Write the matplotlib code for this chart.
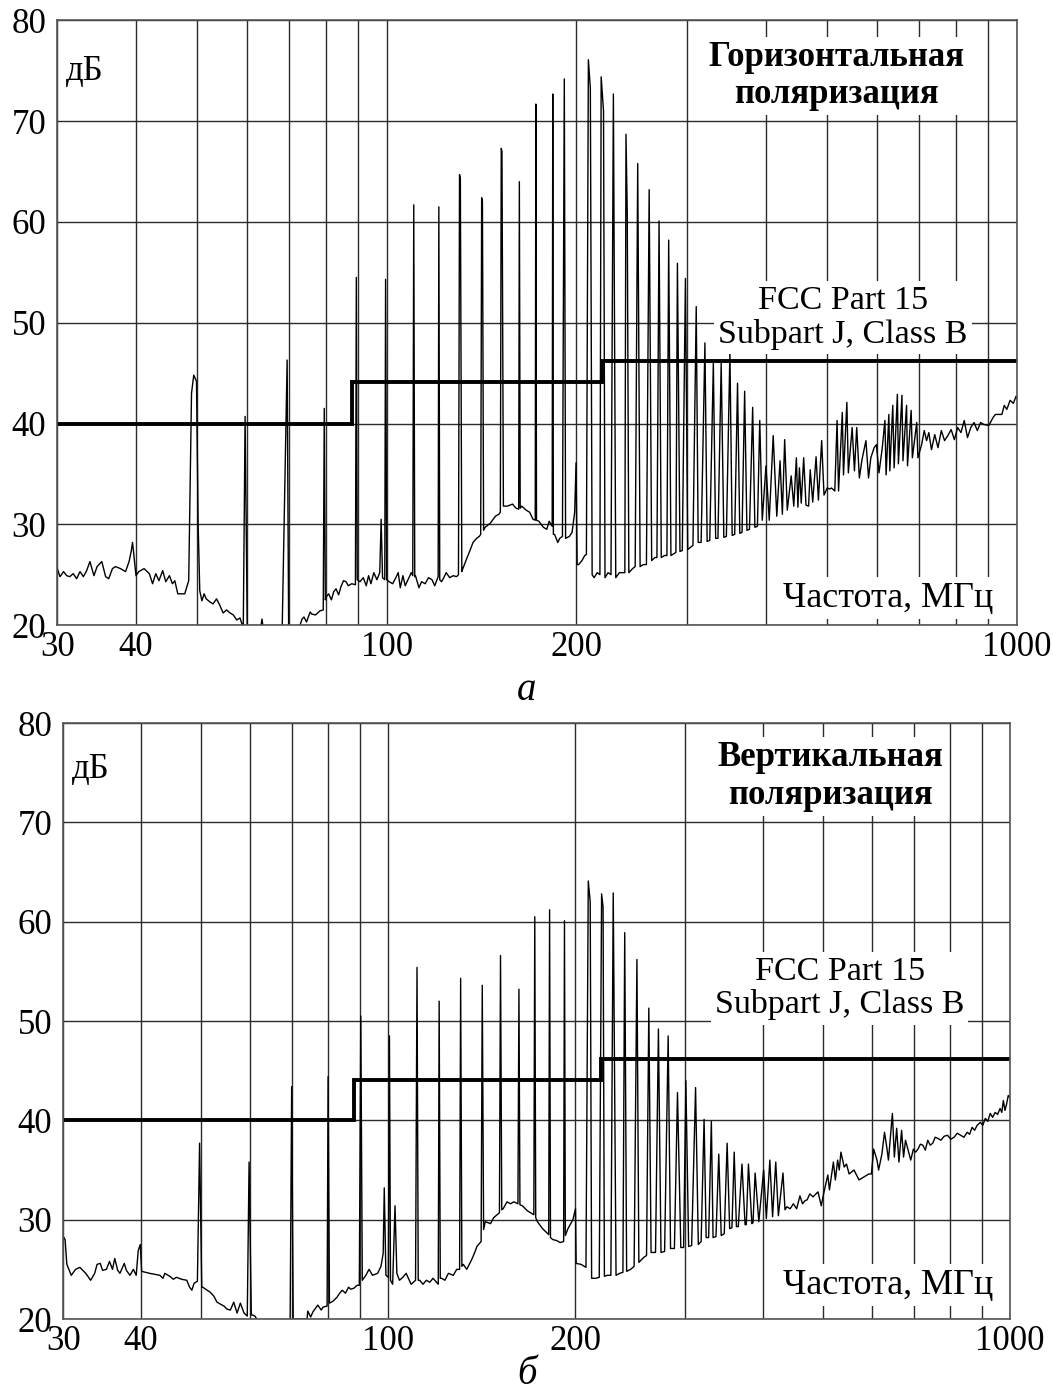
import numpy as np
import matplotlib
matplotlib.use("Agg")
import matplotlib.pyplot as plt

plt.rcParams['font.family'] = ['Liberation Serif', 'DejaVu Serif']

# FCC Part 15 Subpart J, Class B limit: band edges (MHz) and levels (dB)
limit_edges = [30, 88, 220, 1000]
limit_levels = [40.0, 44.1, 46.2]

# horizontal polarization, (MHz, dB)
hor_low = [(30.0, 25.6), (30.3, 24.8), (30.7, 25.3), (31.05, 24.9), (31.4, 24.8), (31.8, 25.1),
           (32.2, 24.6), (32.6, 25.3), (33.0, 24.8), (33.4, 25.4), (33.8, 26.3), (34.3, 24.9),
           (34.7, 25.8), (35.3, 26.3), (35.8, 24.8), (36.2, 24.6), (36.7, 25.6), (37.1, 25.8),
           (37.8, 25.6), (38.5, 25.3), (39.0, 26.3), (39.3, 27.3), (39.5, 28.2), (40.0, 24.9),
           (40.4, 25.3), (41.2, 25.6), (42.0, 25.1), (42.5, 24.1), (43.0, 25.1), (43.5, 24.4),
           (44.1, 25.4), (44.6, 24.3), (45.2, 24.9), (45.7, 24.1), (46.1, 24.4), (46.6, 23.1),
           (47.2, 23.1), (47.8, 23.1), (48.5, 24.4), (49.0, 43.0), (49.4, 44.8), (49.9, 44.2),
           (50.2, 30.0), (50.5, 23.4), (50.9, 22.4), (51.3, 23.1), (51.7, 22.6), (52.4, 22.3),
           (53.0, 22.1), (53.7, 22.6), (54.3, 22.0), (55.0, 21.2), (55.7, 21.5), (56.4, 21.2),
           (57.1, 21.0), (57.8, 20.5), (58.5, 20.7), (59.0, 20.0), (59.2, 19.5), (59.6, 40.7),
           (60.1, 18.5), (61.0, 18.5), (62.5, 19.0), (63.0, 19.5), (63.4, 20.6), (63.8, 19.3),
           (66.0, 18.5), (68.2, 18.5), (69.5, 46.3), (69.9, 18.5), (71.0, 18.8), (72.5, 19.6),
           (73.4, 20.6), (73.9, 20.8), (74.6, 20.3), (75.6, 21.3), (76.0, 21.1), (77.1, 21.0),
           (78.3, 21.4), (79.3, 21.5), (79.6, 41.5), (79.9, 22.5), (80.2, 22.8), (80.9, 23.1),
           (81.7, 22.5), (82.4, 23.3), (83.1, 23.6), (83.9, 23.0), (84.6, 23.8), (85.4, 24.4),
           (86.2, 24.3), (86.9, 23.9), (88.0, 24.1), (89.2, 24.0), (89.5, 54.5), (89.8, 24.5)]

hor_mid = [(90.7, 24.3), (91.8, 24.7), (92.8, 23.9), (93.6, 24.9), (94.4, 24.1), (95.4, 25.2),
           (96.5, 24.5), (97.5, 25.2), (98.0, 30.5), (98.5, 24.7), (99.3, 24.5), (99.6, 54.3),
           (100.0, 24.5), (100.9, 24.3), (102.2, 24.1), (103.4, 24.7), (104.3, 25.2), (105.1, 23.7),
           (106.1, 24.9), (107.0, 23.9), (108.1, 24.5), (109.4, 25.2), (110.0, 24.9), (110.4, 61.7),
           (110.8, 24.8), (111.1, 24.9), (112.5, 23.7), (113.6, 24.3), (115.1, 24.1), (116.5, 24.7),
           (118.0, 24.5), (119.2, 23.9), (120.2, 24.5), (120.7, 24.8), (121.0, 61.5), (121.4, 24.5),
           (122.2, 24.3), (123.2, 24.7), (124.3, 25.2), (125.9, 24.7), (127.5, 24.9), (129.1, 24.8),
           (130.0, 25.0), (130.5, 64.7), (130.9, 64.3), (131.6, 25.3), (132.1, 25.6), (133.8, 26.5),
           (135.4, 27.3), (137.1, 28.2), (138.9, 28.6), (140.3, 28.8), (141.0, 29.0), (141.5, 62.4),
           (141.9, 62.0), (142.5, 29.4), (143.3, 29.7), (146.0, 30.1), (148.8, 30.8), (150.7, 31.0),
           (151.5, 31.2), (152.0, 67.3), (152.4, 67.0), (153.2, 31.8), (155.4, 31.8), (158.4, 32.0),
           (160.4, 31.6), (162.0, 31.5), (162.4, 64.0), (162.9, 31.6), (163.8, 31.8), (166.5, 31.4),
           (168.6, 31.2), (170.7, 30.5), (172.1, 30.4), (172.5, 71.7), (172.9, 30.4), (174.4, 30.3),
           (177.3, 29.7), (179.5, 29.5), (181.1, 30.3), (183.1, 29.8), (183.5, 72.7), (183.9, 29.0),
           (184.7, 29.0), (186.9, 28.2), (188.2, 28.6), (190.1, 28.8), (191.4, 74.2), (192.3, 28.6),
           (195.0, 28.8), (196.9, 29.2), (198.8, 31.2), (199.8, 36.1), (200.6, 26.0), (201.7, 26.0),
           (204.2, 26.4), (206.2, 26.9), (207.5, 27.0), (209.0, 76.1), (210.5, 73.3), (211.9, 25.0),
           (213.4, 24.7), (215.9, 25.2), (218.0, 25.0), (219.0, 74.4), (220.9, 71.0), (222.1, 24.7),
           (224.6, 25.2), (227.0, 25.0), (229.0, 72.7), (231.0, 24.7), (234.1, 25.2), (236.9, 25.2),
           (238.8, 25.2), (239.8, 68.7), (240.9, 61.0), (242.3, 25.2), (245.7, 25.6), (248.0, 25.8),
           (250.3, 65.8), (252.5, 25.8), (255.4, 26.0), (258.4, 26.0), (261.0, 63.2), (263.4, 26.4),
           (266.5, 26.7), (268.5, 26.7), (270.6, 60.1), (272.8, 26.7), (276.0, 26.9), (278.5, 26.9),
           (280.3, 58.2), (282.6, 26.9), (286.0, 27.1), (287.8, 27.2), (289.4, 55.9), (292.1, 27.3),
           (294.6, 27.4), (298.0, 54.4), (300.5, 27.5), (303.4, 27.7), (306.3, 27.9), (310.0, 51.6),
           (312.2, 28.2), (315.6, 28.2), (320.0, 48.0), (322.6, 28.3), (325.7, 28.4), (330.0, 46.0),
           (332.8, 28.6), (335.6, 28.6), (339.6, 46.0), (342.9, 28.7), (346.1, 28.8), (350.6, 47.1),
           (353.5, 28.9), (356.8, 29.0), (360.5, 44.0), (363.5, 29.1), (366.5, 29.2), (370.0, 43.2),
           (373.1, 29.4), (376.6, 29.5), (381.0, 41.6), (384.1, 29.7), (387.7, 29.8), (391.0, 40.3)]

hor_high = [(394.6, 30.4), (400.0, 35.8), (404.8, 30.4), (410.7, 38.8), (416.1, 30.8), (421.1, 36.3),
            (424.7, 31.0), (428.3, 38.4), (432.4, 31.4), (438.6, 34.8), (442.8, 31.8), (447.0, 36.6),
            (449.5, 31.7), (452.0, 35.6), (455.0, 32.1), (459.1, 36.6), (463.0, 31.9), (467.4, 31.8),
            (470.2, 35.4), (474.5, 32.2), (480.4, 36.7), (484.5, 32.4), (490.3, 38.3), (494.5, 32.9),
            (500.4, 33.6), (505.0, 33.5), (508.2, 33.6), (514.4, 33.3), (518.7, 40.3), (521.5, 33.3),
            (528.7, 41.1), (531.0, 34.9), (537.6, 42.1), (540.5, 35.1), (548.1, 39.6), (552.7, 35.3),
            (557.3, 39.6), (562.7, 34.6), (568.1, 36.4), (576.4, 38.3), (581.9, 34.6), (586.8, 36.6),
            (593.9, 37.6), (598.9, 37.9), (604.6, 35.1), (611.9, 37.6), (617.8, 40.3), (620.5, 34.9),
            (626.8, 40.9), (629.0, 35.3), (635.8, 41.8), (639.0, 35.6), (646.6, 42.9), (649.0, 36.0),
            (657.5, 42.8), (660.0, 36.3), (668.7, 41.8), (671.0, 35.8), (680.0, 41.3), (683.0, 36.6),
            (694.0, 40.1), (697.0, 36.6), (706.5, 37.9), (713.3, 39.3), (719.4, 38.3), (725.4, 39.1),
            (732.4, 37.4), (741.2, 38.9), (750.1, 37.6), (759.2, 39.3), (768.3, 38.3), (777.6, 38.8),
            (787.0, 39.4), (796.4, 38.4), (806.0, 39.6), (815.8, 39.1), (825.6, 40.3), (835.5, 38.6),
            (845.6, 39.6), (855.8, 40.1), (866.1, 39.3), (876.5, 40.1), (887.1, 39.9), (903.2, 39.8),
            (917.4, 40.6), (925.1, 40.9), (936.2, 40.9), (947.5, 40.9), (955.5, 41.8), (964.7, 41.4),
            (976.3, 42.3), (988.1, 42.0), (997.6, 42.7), (1000.0, 42.5)]

# vertical polarization, (MHz, dB)
ver_low = [(30.0, 28.3), (30.2, 28.0), (30.4, 25.5), (30.9, 24.4), (31.4, 25.0), (31.9, 25.2),
           (32.6, 24.6), (33.2, 23.9), (33.7, 24.6), (34.0, 25.5), (34.4, 25.6), (34.7, 24.9),
           (35.2, 25.0), (35.6, 25.8), (36.0, 25.0), (36.3, 26.1), (36.7, 24.9), (37.0, 24.6),
           (37.6, 25.6), (37.9, 24.9), (38.4, 24.4), (38.9, 25.0), (39.3, 24.4), (39.6, 26.9),
           (39.9, 27.5), (40.1, 24.8), (41.3, 24.6), (42.1, 24.5), (42.9, 24.4), (43.4, 24.1),
           (43.7, 24.6), (44.5, 24.3), (45.1, 24.0), (45.6, 24.2), (46.5, 24.0), (47.4, 23.9),
           (47.9, 23.2), (48.3, 22.9), (48.7, 23.6), (49.3, 23.8), (49.7, 37.7), (50.1, 23.2),
           (50.3, 23.2), (51.1, 22.9), (51.7, 22.7), (52.4, 22.3), (53.0, 21.7), (53.7, 21.5),
           (54.4, 21.3), (55.0, 21.0), (55.7, 20.9), (56.4, 21.7), (57.1, 20.6), (57.8, 21.6),
           (58.6, 20.6), (59.3, 20.3), (59.7, 35.8), (60.2, 20.4), (60.5, 20.4), (61.0, 20.3),
           (62.0, 19.6), (64.0, 19.0), (66.0, 18.5), (68.0, 18.8), (69.5, 19.5), (69.9, 43.4),
           (70.3, 20.0), (72.0, 20.0), (74.0, 20.0), (74.2, 20.8), (75.0, 20.2), (75.6, 20.7),
           (77.0, 21.4), (78.0, 20.9), (78.5, 21.2), (79.7, 21.3), (80.0, 44.4), (80.4, 21.6),
           (81.5, 21.8), (82.7, 22.2), (83.5, 22.6), (84.3, 22.9), (85.3, 22.6), (86.3, 23.2),
           (87.0, 23.0), (88.0, 23.1), (89.1, 23.4), (89.8, 23.4), (90.3, 50.5)]

ver_mid = [(90.8, 23.9), (92.0, 24.4), (93.1, 25.0), (94.3, 24.4), (96.1, 24.6), (97.3, 25.3),
           (98.1, 26.6), (98.5, 33.2), (99.1, 24.4), (100.0, 24.2), (100.4, 48.5), (100.8, 23.9),
           (101.6, 23.5), (102.5, 31.4), (103.2, 24.6), (104.2, 23.9), (105.5, 24.2), (106.8, 24.6),
           (108.8, 23.5), (110.6, 23.9), (111.2, 55.4), (111.7, 23.9), (112.3, 23.9), (113.7, 23.5),
           (115.1, 23.9), (116.6, 23.7), (118.0, 24.1), (119.5, 23.7), (120.3, 23.5), (120.7, 52.0),
           (121.2, 24.1), (121.8, 24.1), (123.3, 23.9), (124.9, 24.6), (127.2, 24.4), (128.8, 25.0),
           (130.2, 25.0), (130.7, 54.3), (131.3, 25.3), (132.0, 25.5), (133.7, 25.0), (136.2, 26.0),
           (137.9, 26.8), (138.8, 27.3), (141.0, 27.8), (141.6, 53.6), (142.3, 29.0), (143.2, 29.8),
           (146.0, 29.6), (147.7, 30.2), (150.9, 30.7), (151.5, 56.6), (152.2, 31.0), (153.0, 31.1),
           (155.2, 31.8), (157.2, 31.6), (159.2, 31.8), (161.6, 31.6), (162.2, 53.2), (162.8, 31.5),
           (164.3, 31.4), (167.3, 30.9), (171.4, 30.5), (172.0, 60.5), (172.6, 30.2), (173.7, 29.8),
           (177.0, 29.1), (181.1, 28.5), (181.7, 61.2), (182.3, 28.2), (183.8, 28.0), (186.5, 27.9),
           (188.9, 27.7), (191.4, 27.8), (192.0, 60.1), (192.6, 28.4), (194.5, 29.1), (198.1, 30.0),
           (200.0, 31.1), (200.5, 25.6), (204.2, 25.5), (207.9, 25.2), (209.7, 64.1), (211.2, 62.0),
           (212.3, 24.1), (215.5, 24.1), (218.4, 24.2), (220.3, 62.8), (221.5, 61.5), (222.6, 24.3),
           (225.0, 24.4), (228.0, 24.4), (230.0, 62.9), (232.4, 24.4), (235.6, 24.6), (238.4, 24.7),
           (240.0, 58.9), (241.7, 24.8), (245.3, 25.0), (248.5, 25.3), (251.1, 56.2), (252.9, 25.7),
           (257.5, 26.2), (260.2, 26.4), (262.4, 51.3), (264.6, 26.7), (269.0, 26.7), (271.9, 49.2),
           (274.5, 26.7), (278.2, 26.8), (281.9, 48.5), (284.4, 27.1), (288.5, 27.1), (291.8, 42.8),
           (295.4, 27.2), (298.5, 27.2), (301.0, 44.0), (304.1, 27.3), (307.5, 27.4), (312.0, 43.3),
           (315.2, 27.5), (318.5, 27.8), (322.0, 40.1), (324.5, 28.2), (327.5, 28.2), (330.8, 39.9),
           (332.9, 28.2), (336.5, 28.3), (340.0, 36.6), (343.1, 28.4), (347.0, 28.6), (350.7, 37.7),
           (354.0, 29.1), (357.0, 29.2), (360.0, 36.8), (363.0, 29.3), (365.5, 29.3), (370.5, 35.6),
           (374.8, 29.5), (376.5, 29.5), (379.5, 35.6), (384.4, 29.6), (386.0, 29.7), (389.0, 34.7)]

ver_high = [(394.4, 29.8), (401.5, 35.0), (405.5, 30.1), (410.8, 36.0), (415.0, 30.3), (419.9, 35.8),
            (424.0, 30.4), (431.3, 34.7), (434.5, 31.0), (437.5, 31.3), (442.9, 31.1), (448.2, 31.6),
            (453.7, 31.1), (459.2, 32.4), (463.7, 31.6), (467.7, 31.9), (471.7, 32.0), (476.3, 32.6),
            (482.1, 32.3), (491.0, 32.8), (497.0, 31.4), (501.3, 32.6), (509.2, 34.5), (512.3, 33.0),
            (519.8, 35.8), (523.6, 34.0), (528.1, 36.0), (531.3, 35.0), (534.5, 36.8), (541.1, 35.3),
            (545.7, 35.6), (551.0, 34.6), (561.1, 35.0), (571.5, 34.0), (582.0, 34.3), (592.6, 34.6),
            (598.4, 34.6), (603.5, 37.1), (610.9, 36.0), (614.6, 35.0), (622.1, 36.6), (628.2, 38.8),
            (633.5, 37.3), (637.4, 36.0), (641.3, 38.0), (646.8, 40.7), (651.5, 36.3), (657.1, 39.2),
            (662.7, 35.8), (669.2, 39.0), (674.1, 36.3), (679.0, 38.0), (685.6, 37.0), (692.3, 36.0),
            (699.0, 37.1), (705.0, 36.8), (711.0, 37.1), (717.5, 37.6), (724.1, 37.5), (730.5, 37.0),
            (737.4, 38.0), (744.0, 37.5), (751.0, 37.7), (758.0, 38.3), (764.8, 38.2), (774.1, 38.0),
            (783.5, 38.4), (793.2, 38.5), (803.0, 38.1), (812.7, 38.3), (822.5, 38.7), (832.7, 38.5),
            (843.0, 38.3), (853.2, 38.8), (861.0, 38.6), (868.9, 39.3), (877.0, 39.0), (885.2, 39.5),
            (896.0, 39.8), (904.0, 39.5), (912.5, 40.2), (921.0, 39.9), (929.3, 40.7), (937.5, 40.3),
            (946.3, 40.8), (955.0, 40.6), (963.8, 41.2), (970.0, 40.8), (975.5, 42.0), (981.5, 41.0),
            (987.0, 41.6), (993.4, 42.5), (999.5, 42.3)]

grid_freqs = [30, 40, 50, 60, 70, 80, 90, 100, 200, 300, 400, 500, 600, 700, 800, 900, 1000]
labeled_freqs = [30, 40, 100, 200, 1000]
db_ticks = [20, 30, 40, 50, 60, 70, 80]

fig = plt.figure(figsize=(10.53, 13.98), dpi=100)
ax_h = fig.add_axes([0.0544, 0.5529, 0.9111, 0.4325])
ax_v = fig.add_axes([0.0601, 0.0565, 0.8991, 0.4263])

box = dict(facecolor='white', edgecolor='none', pad=3)


def draw_panel(ax, bands, title, title_pos, limit_pos, freq_pos, unit_pos):
    pts = [p for band in bands for p in band]
    f = np.array([p[0] for p in pts])
    db = np.array([p[1] for p in pts])

    ax.set_xscale('log')
    ax.set_xlim(30, 1000)
    ax.set_ylim(20, 80)
    ax.set_xticks(grid_freqs)
    ax.set_xticklabels([str(v) if v in labeled_freqs else '' for v in grid_freqs])
    ax.xaxis.set_minor_locator(matplotlib.ticker.NullLocator())
    ax.set_yticks(db_ticks)
    ax.tick_params(axis='both', length=0, labelsize=25)
    ax.tick_params(axis='y', pad=8)
    ax.tick_params(axis='x', pad=4)
    ax.grid(True, color='#2b2b2b', linewidth=1.0)
    for s in ax.spines.values():
        s.set_color('#555555')
        s.set_linewidth(1.2)

    ax.plot(f, db, color='black', linewidth=1.0, zorder=2)
    ax.stairs(limit_levels, limit_edges, baseline=None, color='black',
              linewidth=2.8, zorder=2.5)

    ax.text(*unit_pos, 'дБ', transform=ax.transAxes, fontsize=25,
            ha='left', va='center')
    ax.text(*title_pos, title, transform=ax.transAxes, fontsize=25,
            fontweight='bold', ha='center', va='center', linespacing=1.18,
            bbox=box, zorder=3)
    ax.text(*limit_pos, 'FCC Part 15\nSubpart J, Class B', transform=ax.transAxes,
            fontsize=24.5, ha='center', va='center', linespacing=1.12,
            bbox=box, zorder=3)
    ax.text(*freq_pos, 'Частота, МГц', transform=ax.transAxes, fontsize=26,
            ha='center', va='center', bbox=box, zorder=3)


draw_panel(ax_h, [hor_low, hor_mid, hor_high], 'Горизонтальная\nполяризация',
           (0.812, 0.908), (0.819, 0.5085), (0.866, 0.0447), (0.009, 0.915))
draw_panel(ax_v, [ver_low, ver_mid, ver_high], 'Вертикальная\nполяризация',
           (0.81, 0.910), (0.820, 0.555), (0.871, 0.057), (0.009, 0.922))

fig.text(527 / 1053, 1 - 690 / 1398, 'а', fontsize=28, style='italic',
         ha='center', va='center')
fig.text(527 / 1053, 1 - 1375 / 1398, 'б', fontsize=28, style='italic',
         ha='center', va='center')

fig.savefig('out.png', dpi=100)
